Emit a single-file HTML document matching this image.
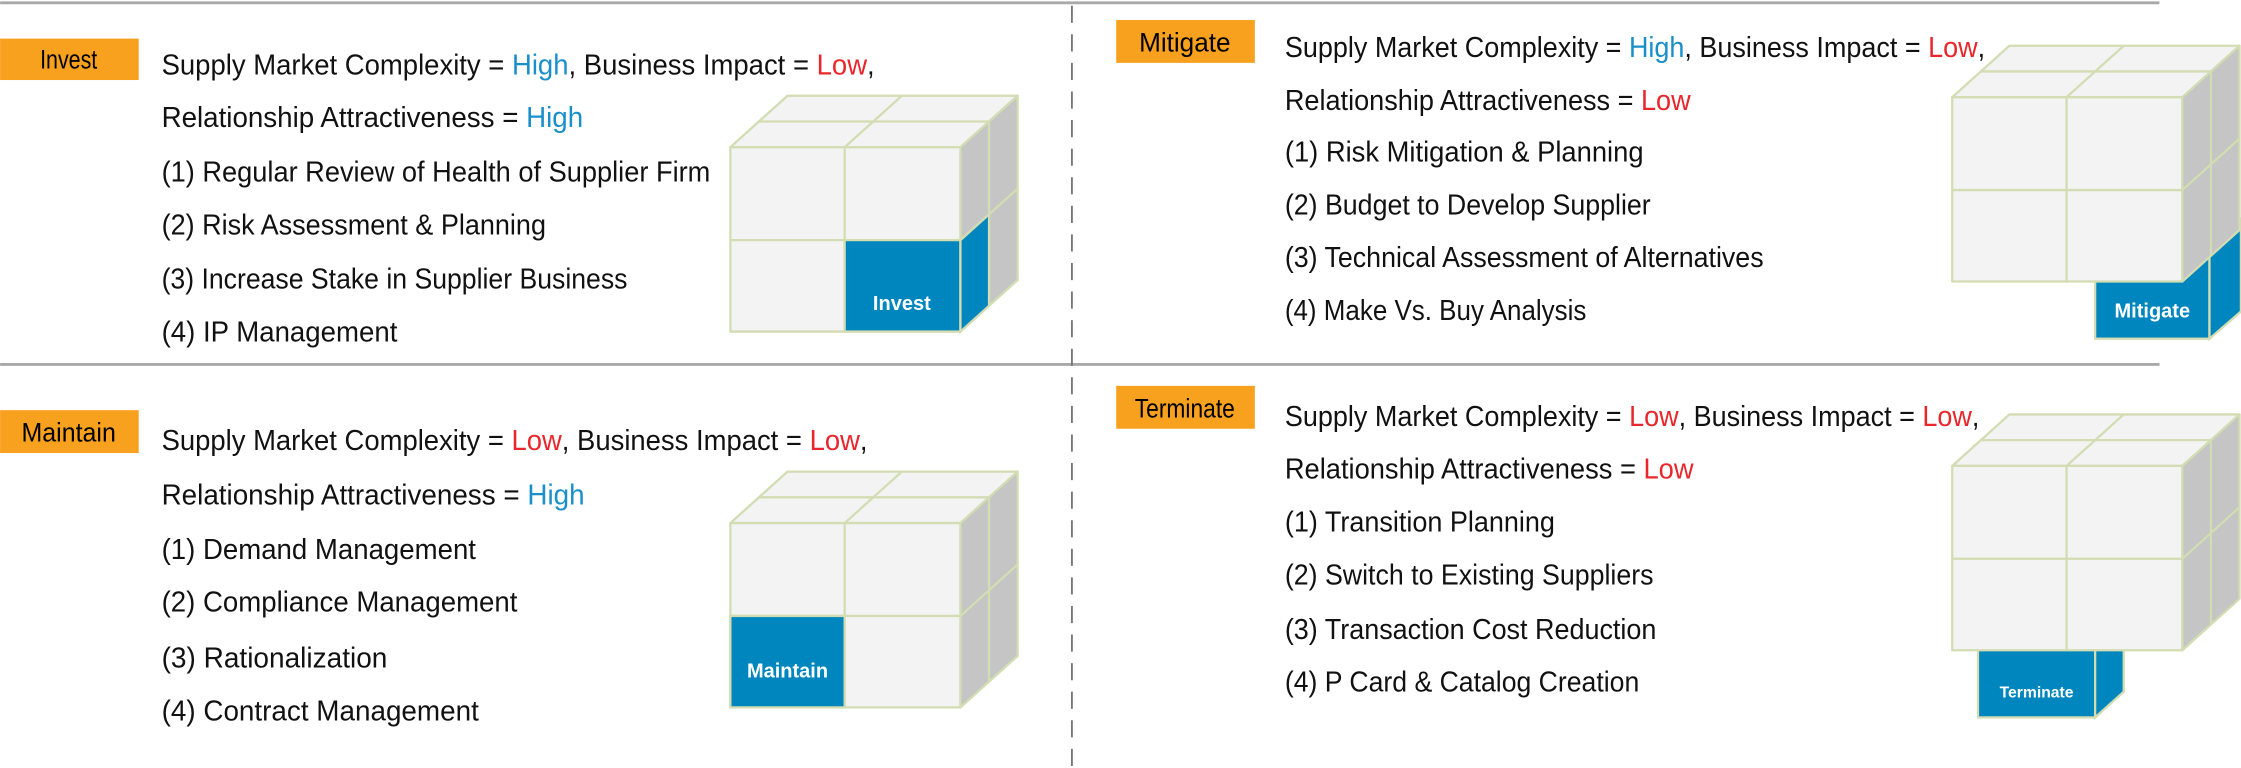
<!DOCTYPE html>
<html><head><meta charset="utf-8"><style>
html,body{margin:0;padding:0;background:#fff;}
svg{display:block;}
text{font-family:"Liberation Sans",sans-serif;}
</style></head><body>
<svg width="2241" height="768" viewBox="0 0 1568 537.4" xmlns="http://www.w3.org/2000/svg">
<defs>
<g id="cube" stroke="#d3dcb2" stroke-width="1.6" stroke-linejoin="round">
  <polygon points="0,0 161,0 201,-36 40,-36" fill="#f3f3f3"/>
  <polygon points="161,0 201,-36 201,93 161,129" fill="#c4c5c4"/>
  <rect x="0" y="0" width="161" height="129" fill="#f2f3f2"/>
  <line x1="80" y1="0" x2="120" y2="-36"/>
  <line x1="20" y1="-18" x2="181" y2="-18"/>
  <line x1="181" y1="-18" x2="181" y2="111"/>
  <line x1="161" y1="65" x2="201" y2="29"/>
  <line x1="80" y1="0" x2="80" y2="129"/>
  <line x1="0" y1="65" x2="161" y2="65"/>
</g>
</defs>
<line x1="0" y1="2" x2="1511" y2="2" stroke="#a9a9a9" stroke-width="2"/>
<line x1="0" y1="255" x2="1511" y2="255" stroke="#a9a9a9" stroke-width="2"/>
<line x1="750" y1="4" x2="750" y2="537" stroke="#777" stroke-width="1.3" stroke-dasharray="12,8"/>

<rect x="0" y="27" width="97" height="29" fill="#f8a11f"/>
<text x="48" y="48" font-size="19" text-anchor="middle" textLength="40" lengthAdjust="spacingAndGlyphs">Invest</text>
<rect x="0" y="287" width="97" height="30" fill="#f8a11f"/>
<text x="48" y="309" font-size="19" text-anchor="middle" textLength="66" lengthAdjust="spacingAndGlyphs">Maintain</text>
<rect x="781" y="14" width="97" height="30" fill="#f8a11f"/>
<text x="829" y="36" font-size="19" text-anchor="middle" textLength="64" lengthAdjust="spacingAndGlyphs">Mitigate</text>
<rect x="781" y="270" width="97" height="30" fill="#f8a11f"/>
<text x="829" y="292" font-size="19" text-anchor="middle" textLength="70" lengthAdjust="spacingAndGlyphs">Terminate</text>

<g font-size="20" fill="#111">
<text x="113" y="52" textLength="499" lengthAdjust="spacingAndGlyphs">Supply Market Complexity = <tspan fill="#1a8fc9">High</tspan>, Business Impact = <tspan fill="#e8262b">Low</tspan>,</text>
<text x="113" y="89" textLength="295" lengthAdjust="spacingAndGlyphs">Relationship Attractiveness = <tspan fill="#1a8fc9">High</tspan></text>
<text x="113" y="127" textLength="384" lengthAdjust="spacingAndGlyphs">(1) Regular Review of Health of Supplier Firm</text>
<text x="113" y="164" textLength="269" lengthAdjust="spacingAndGlyphs">(2) Risk Assessment &amp; Planning</text>
<text x="113" y="202" textLength="326" lengthAdjust="spacingAndGlyphs">(3) Increase Stake in Supplier Business</text>
<text x="113" y="239" textLength="165" lengthAdjust="spacingAndGlyphs">(4) IP Management</text>

<text x="113" y="315" textLength="494" lengthAdjust="spacingAndGlyphs">Supply Market Complexity = <tspan fill="#e8262b">Low</tspan>, Business Impact = <tspan fill="#e8262b">Low</tspan>,</text>
<text x="113" y="353" textLength="296" lengthAdjust="spacingAndGlyphs">Relationship Attractiveness = <tspan fill="#1a8fc9">High</tspan></text>
<text x="113" y="391" textLength="220" lengthAdjust="spacingAndGlyphs">(1) Demand Management</text>
<text x="113" y="428" textLength="249" lengthAdjust="spacingAndGlyphs">(2) Compliance Management</text>
<text x="113" y="467" textLength="158" lengthAdjust="spacingAndGlyphs">(3) Rationalization</text>
<text x="113" y="504" textLength="222" lengthAdjust="spacingAndGlyphs">(4) Contract Management</text>

<text x="899" y="40" textLength="490" lengthAdjust="spacingAndGlyphs">Supply Market Complexity = <tspan fill="#1a8fc9">High</tspan>, Business Impact = <tspan fill="#e8262b">Low</tspan>,</text>
<text x="899" y="77" textLength="284" lengthAdjust="spacingAndGlyphs">Relationship Attractiveness = <tspan fill="#e8262b">Low</tspan></text>
<text x="899" y="113" textLength="251" lengthAdjust="spacingAndGlyphs">(1) Risk Mitigation &amp; Planning</text>
<text x="899" y="150" textLength="256" lengthAdjust="spacingAndGlyphs">(2) Budget to Develop Supplier</text>
<text x="899" y="187" textLength="335" lengthAdjust="spacingAndGlyphs">(3) Technical  Assessment of Alternatives</text>
<text x="899" y="224" textLength="211" lengthAdjust="spacingAndGlyphs">(4) Make Vs. Buy Analysis</text>

<text x="899" y="298" textLength="486" lengthAdjust="spacingAndGlyphs">Supply Market Complexity = <tspan fill="#e8262b">Low</tspan>, Business Impact = <tspan fill="#e8262b">Low</tspan>,</text>
<text x="899" y="335" textLength="286" lengthAdjust="spacingAndGlyphs">Relationship Attractiveness = <tspan fill="#e8262b">Low</tspan></text>
<text x="899" y="372" textLength="189" lengthAdjust="spacingAndGlyphs">(1) Transition  Planning</text>
<text x="899" y="409" textLength="258" lengthAdjust="spacingAndGlyphs">(2) Switch to Existing Suppliers</text>
<text x="899" y="447" textLength="260" lengthAdjust="spacingAndGlyphs">(3) Transaction Cost  Reduction</text>
<text x="899" y="484" textLength="248" lengthAdjust="spacingAndGlyphs">(4) P Card &amp; Catalog Creation</text>
</g>

<use href="#cube" transform="translate(511,103)"/>
<g stroke="#d3dcb2" stroke-width="1.6">
<rect x="591" y="168" width="81" height="64" fill="#0086be"/>
<polygon points="672,168 692,150 692,214 672,232" fill="#0086be"/>
</g>
<text x="631" y="217" font-size="14" font-weight="bold" fill="#fff" text-anchor="middle">Invest</text>

<use href="#cube" transform="translate(511,366)"/>
<rect x="511" y="431" width="80" height="64" fill="#0086be" stroke="#d3dcb2" stroke-width="1.6"/>
<text x="551" y="474" font-size="14" font-weight="bold" fill="#fff" text-anchor="middle">Maintain</text>

<g stroke="#d3dcb2" stroke-width="1.6" fill="#0086be">
<rect x="1466" y="172" width="80" height="65"/>
<polygon points="1546,172 1568,153 1568,218 1546,237"/>
</g>
<use href="#cube" transform="translate(1366,68)"/>
<text x="1506" y="222" font-size="14" font-weight="bold" fill="#fff" text-anchor="middle">Mitigate</text>

<g stroke="#d3dcb2" stroke-width="1.6" fill="#0086be">
<rect x="1384" y="420" width="82" height="82"/>
<polygon points="1466,420 1486,402 1486,484 1466,502"/>
</g>
<use href="#cube" transform="translate(1366,326)"/>
<text x="1425" y="488" font-size="11" font-weight="bold" fill="#fff" text-anchor="middle">Terminate</text>
</svg>
</body></html>
